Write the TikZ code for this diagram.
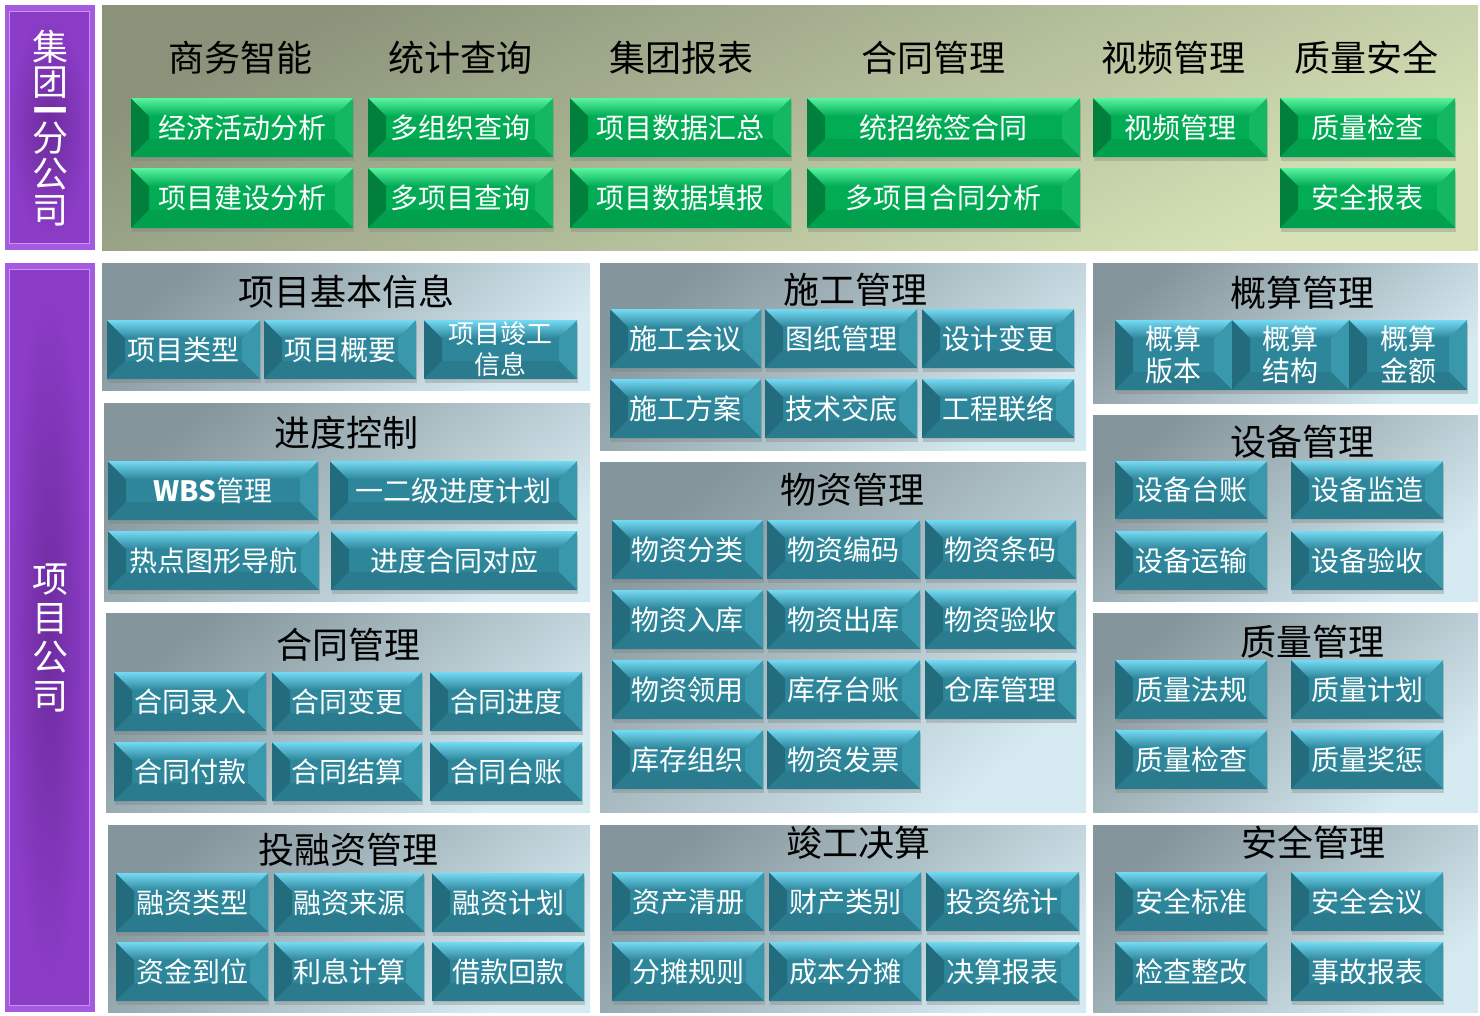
\documentclass[tikz,border=0pt]{standalone}
\usepackage{fontspec}
\setmainfont{Noto Sans CJK SC}
\usetikzlibrary{shadows,calc}
\definecolor{tmid}{HTML}{2E869B}
\definecolor{ttop}{HTML}{74DAF4}
\definecolor{tleft}{HTML}{236C7D}
\definecolor{tright}{HTML}{3A98AD}
\definecolor{tbot}{HTML}{2A7B8E}
\definecolor{gmid}{HTML}{02AC55}
\definecolor{gtop}{HTML}{5AF4A0}
\definecolor{gleft}{HTML}{00803C}
\definecolor{gright}{HTML}{14B862}
\definecolor{gbot}{HTML}{00A04D}
\definecolor{pdark}{HTML}{84959B}
\definecolor{plight}{HTML}{D6EAF1}
\definecolor{odark}{HTML}{8A937A}
\definecolor{olight}{HTML}{D6E2B6}
\definecolor{purpmid}{HTML}{6E2C9E}
\definecolor{purpedge}{HTML}{8C3DC8}
\definecolor{purpouter}{HTML}{A45BE0}
\definecolor{purpline}{HTML}{C893F2}
\newcommand\bevelfaces[5]{%
  \coordinate (pNW) at (path picture bounding box.north west);
  \coordinate (pNE) at (path picture bounding box.north east);
  \coordinate (pSW) at (path picture bounding box.south west);
  \coordinate (pSE) at (path picture bounding box.south east);
  \fill[#3] (pNW) -- ([xshift=18pt,yshift=-18pt]pNW) -- ([xshift=18pt,yshift=18pt]pSW) -- (pSW) -- cycle;
  \fill[#4] (pNE) -- ([xshift=-18pt,yshift=-18pt]pNE) -- ([xshift=-18pt,yshift=18pt]pSE) -- (pSE) -- cycle;
  \fill[#5] (pSW) -- ([xshift=18pt,yshift=18pt]pSW) -- ([xshift=-18pt,yshift=18pt]pSE) -- (pSE) -- cycle;
  \shade[top color=#1, bottom color=#2] (pNW) -- (pNE) -- ([xshift=-18pt,yshift=-18pt]pNE) -- ([xshift=18pt,yshift=-18pt]pNW) -- cycle;
}
\tikzset{
  btnbase/.style={rectangle, inner sep=0pt, outer sep=0pt, text=white, align=center,
    font=\fontsize{28}{32}\selectfont,
    drop shadow={opacity=0.35, shadow xshift=1pt, shadow yshift=-4pt}},
  tealbtn/.style={btnbase, fill=tmid, path picture={\bevelfaces{ttop}{tmid}{tleft}{tright}{tbot}}},
  greenbtn/.style={btnbase, fill=gmid, path picture={\bevelfaces{gtop}{gmid}{gleft}{gright}{gbot}}},
  ptitle/.style={inner sep=0pt, text=black, font=\fontsize{36}{40}\selectfont},
  sidetext/.style={inner sep=0pt, text=white, align=center, font=\fontsize{36}{39}\selectfont},
  panelbg/.style={top color=pdark, bottom color=plight, shading angle=40},
}
\newcommand\tbtn[6]{\node[tealbtn, minimum width={(#4-#2)*1pt}, minimum height={(#5-#3)*1pt}] (#1) at ({(#2+#4)/2},{(#3+#5)/2}) {#6};}
\newcommand\gbtn[6]{\node[greenbtn, minimum width={(#4-#2)*1pt}, minimum height={(#5-#3)*1pt}] (#1) at ({(#2+#4)/2},{(#3+#5)/2}) {#6};}
\newcommand\panelrect[4]{\shade[panelbg] (#1,#2) rectangle (#3,#4);}
\begin{document}
\begin{tikzpicture}[x=1pt,y=-1pt]
\useasboundingbox (0,0) rectangle (1480,1015);
\fill[white] (0,0) rectangle (1480,1015);
% ---------- left purple bars
\fill[purpouter] (5,5) rectangle (95,250);
\shade[inner color=purpmid, outer color=purpedge] (9,11) rectangle (89,243);
\draw[purpline, line width=1pt] (9,11) rectangle (89,243);
\fill[purpouter] (5,263) rectangle (95,1012);
\shade[inner color=purpmid, outer color=purpedge] (9,269) rectangle (89,1005);
\draw[purpline, line width=1pt] (9,269) rectangle (89,1005);
\node[sidetext, align=center, font=\fontsize{36}{35}\selectfont] (side1a) at (50,64) {集\\团};
\node[sidetext, anchor=base, font=\bfseries\fontsize{34}{34}\selectfont] (side1b) at (50,123) {\smash{一}};
\node[sidetext, align=center, font=\fontsize{36}{36}\selectfont] (side1c) at (50,174) {分\\公\\司};
\node[sidetext] (side2) at (50,638) {项\\目\\公\\司};
% ---------- top panel
\shade[top color=odark, bottom color=olight, shading angle=25] (102,5) rectangle (1478,250);
\node[ptitle] (h1) at (240,58) {商务智能};
\node[ptitle] (h2) at (460,58) {统计查询};
\node[ptitle] (h3) at (681,58) {集团报表};
\node[ptitle] (h4) at (933,58) {合同管理};
\node[ptitle] (h5) at (1173,58) {视频管理};
\node[ptitle] (h6) at (1366,58) {质量安全};
\gbtn{g11}{131}{98}{353}{157}{经济活动分析}
\gbtn{g12}{131}{168}{353}{228}{项目建设分析}
\gbtn{g21}{368}{98}{553}{157}{多组织查询}
\gbtn{g22}{368}{168}{553}{228}{多项目查询}
\gbtn{g31}{570}{98}{791}{157}{项目数据汇总}
\gbtn{g32}{570}{168}{791}{228}{项目数据填报}
\gbtn{g41}{807}{98}{1080}{157}{统招统签合同}
\gbtn{g42}{807}{168}{1080}{228}{多项目合同分析}
\gbtn{g51}{1093}{98}{1267}{157}{视频管理}
\gbtn{g61}{1280}{98}{1455}{157}{质量检查}
\gbtn{g62}{1280}{168}{1455}{228}{安全报表}
% ---------- panels
\panelrect{102}{263}{590}{390}
\panelrect{104}{403}{590}{601}
\panelrect{106}{613}{590}{812}
\panelrect{108}{825}{590}{1012}
\panelrect{600}{263}{1086}{450}
\panelrect{600}{462}{1086}{812}
\panelrect{600}{825}{1086}{1012}
\panelrect{1093}{263}{1478}{403}
\panelrect{1093}{415}{1478}{601}
\panelrect{1093}{613}{1478}{812}
\panelrect{1093}{825}{1478}{1012}
% ---------- titles
\node[ptitle] (t1) at (346,292) {项目基本信息};
\node[ptitle] (t2) at (346,433) {进度控制};
\node[ptitle] (t3) at (348,645) {合同管理};
\node[ptitle] (t4) at (348,850) {投融资管理};
\node[ptitle] (t5) at (855,290) {施工管理};
\node[ptitle] (t6) at (852,490) {物资管理};
\node[ptitle] (t7) at (858,843) {竣工决算};
\node[ptitle] (t8) at (1302,293) {概算管理};
\node[ptitle] (t9) at (1302,442) {设备管理};
\node[ptitle] (t10) at (1312,642) {质量管理};
\node[ptitle] (t11) at (1313,843) {安全管理};
% ---------- 项目基本信息
\tbtn{a1}{107}{320}{260}{379}{项目类型}
\tbtn{a2}{264}{320}{416}{379}{项目概要}
\node[tealbtn, font=\fontsize{26}{31}\selectfont, minimum width=153pt, minimum height=59pt] (a3) at (500.5,349.5) {项目竣工\\信息};
% ---------- 进度控制
\tbtn{b1}{108}{461}{318}{520}{{\bfseries WBS}管理}
\tbtn{b2}{330}{461}{577}{520}{一二级进度计划}
\tbtn{b3}{108}{531}{319}{590}{热点图形导航}
\tbtn{b4}{331}{531}{577}{590}{进度合同对应}
% ---------- 合同管理
\tbtn{c1}{114}{672}{266}{731}{合同录入}
\tbtn{c2}{272}{672}{422}{731}{合同变更}
\tbtn{c3}{430}{672}{582}{731}{合同进度}
\tbtn{c4}{114}{742}{266}{801}{合同付款}
\tbtn{c5}{272}{742}{422}{801}{合同结算}
\tbtn{c6}{430}{742}{582}{801}{合同台账}
% ---------- 投融资管理
\tbtn{d1}{116}{873}{268}{932}{融资类型}
\tbtn{d2}{274}{873}{424}{932}{融资来源}
\tbtn{d3}{432}{873}{584}{932}{融资计划}
\tbtn{d4}{116}{942}{268}{1001}{资金到位}
\tbtn{d5}{274}{942}{424}{1001}{利息计算}
\tbtn{d6}{432}{942}{584}{1001}{借款回款}
% ---------- 施工管理
\tbtn{e1}{610}{309}{761}{368}{施工会议}
\tbtn{e2}{765}{309}{917}{368}{图纸管理}
\tbtn{e3}{922}{309}{1074}{368}{设计变更}
\tbtn{e4}{610}{379}{761}{438}{施工方案}
\tbtn{e5}{765}{379}{917}{438}{技术交底}
\tbtn{e6}{922}{379}{1074}{438}{工程联络}
% ---------- 物资管理
\tbtn{f1}{612}{520}{763}{579}{物资分类}
\tbtn{f2}{767}{520}{920}{579}{物资编码}
\tbtn{f3}{925}{520}{1076}{579}{物资条码}
\tbtn{f4}{612}{590}{763}{649}{物资入库}
\tbtn{f5}{767}{590}{920}{649}{物资出库}
\tbtn{f6}{925}{590}{1076}{649}{物资验收}
\tbtn{f7}{612}{660}{763}{719}{物资领用}
\tbtn{f8}{767}{660}{920}{719}{库存台账}
\tbtn{f9}{925}{660}{1076}{719}{仓库管理}
\tbtn{f10}{612}{730}{763}{789}{库存组织}
\tbtn{f11}{767}{730}{920}{789}{物资发票}
% ---------- 竣工决算
\tbtn{k1}{612}{872}{764}{931}{资产清册}
\tbtn{k2}{769}{872}{921}{931}{财产类别}
\tbtn{k3}{926}{872}{1079}{931}{投资统计}
\tbtn{k4}{612}{942}{764}{1001}{分摊规则}
\tbtn{k5}{769}{942}{921}{1001}{成本分摊}
\tbtn{k6}{926}{942}{1079}{1001}{决算报表}
% ---------- 概算管理
\tbtn{m1}{1115}{320}{1232}{390}{概算\\版本}
\tbtn{m2}{1232}{320}{1349}{390}{概算\\结构}
\tbtn{m3}{1349}{320}{1467}{390}{概算\\金额}
% ---------- 设备管理
\tbtn{n1}{1115}{461}{1267}{519}{设备台账}
\tbtn{n2}{1291}{461}{1443}{519}{设备监造}
\tbtn{n3}{1115}{531}{1267}{590}{设备运输}
\tbtn{n4}{1291}{531}{1443}{590}{设备验收}
% ---------- 质量管理
\tbtn{q1}{1115}{660}{1267}{719}{质量法规}
\tbtn{q2}{1291}{660}{1443}{719}{质量计划}
\tbtn{q3}{1115}{730}{1267}{789}{质量检查}
\tbtn{q4}{1291}{730}{1443}{789}{质量奖惩}
% ---------- 安全管理
\tbtn{s1}{1115}{872}{1267}{931}{安全标准}
\tbtn{s2}{1291}{872}{1443}{931}{安全会议}
\tbtn{s3}{1115}{942}{1267}{1001}{检查整改}
\tbtn{s4}{1291}{942}{1443}{1001}{事故报表}
\end{tikzpicture}
\end{document}
